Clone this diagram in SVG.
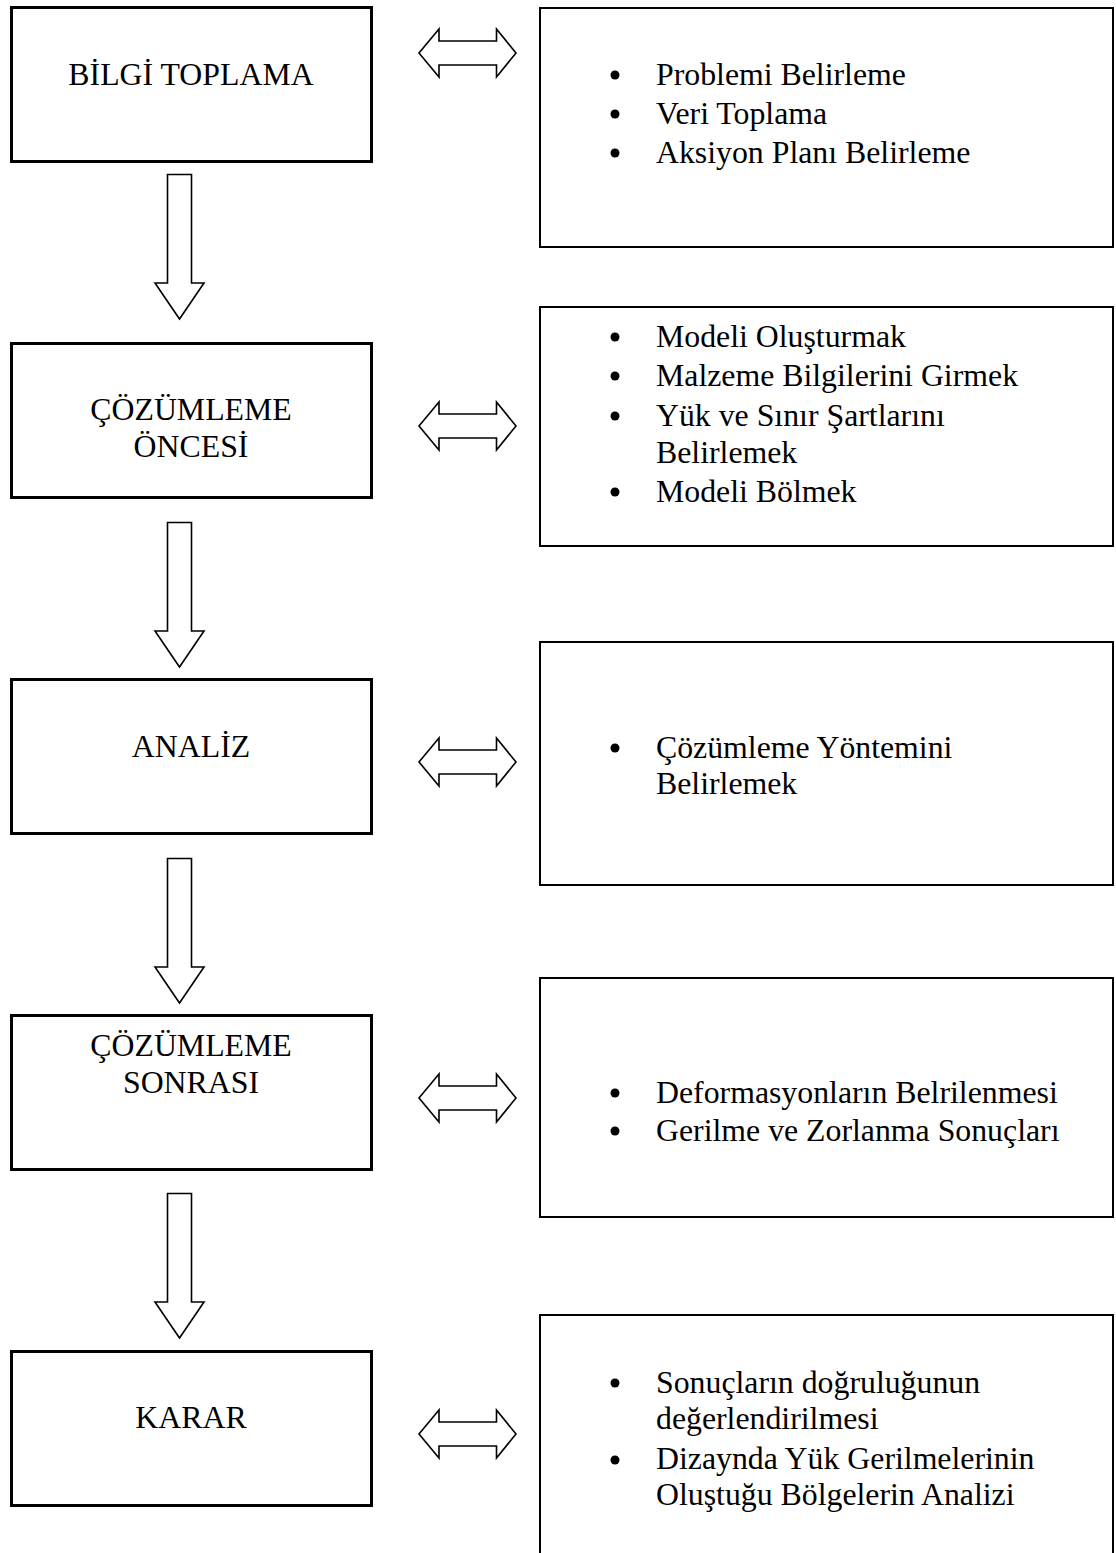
<svg xmlns="http://www.w3.org/2000/svg" width="1116" height="1553" viewBox="0 0 1116 1553">
<style>
.step{fill:#fff;stroke:#000;stroke-width:3}
.info{fill:#fff;stroke:#000;stroke-width:2}
.arr{fill:#fff;stroke:#000;stroke-width:1.6;stroke-linejoin:miter}
text{font-family:"Liberation Serif","Times New Roman",serif;font-size:31.8px;fill:#000}
.c{text-anchor:middle}
.dot{fill:#000}
</style>
<defs>
<polygon id="down" class="arr" points="167.5,174.5 191.5,174.5 191.5,283 204,283 179.5,319 155,283 167.5,283"/>
<polygon id="both" class="arr" points="419,0 439,-24 439,-12 496.5,-12 496.5,-24 516,0 496.5,24 496.5,12 439,12 439,24"/>
</defs>
<rect width="1116" height="1553" fill="#fff"/>

<g id="step1">
<rect class="step" x="11.5" y="7.5" width="360" height="154"/>
<text class="c" x="191" y="85">BİLGİ TOPLAMA</text>
</g>
<g id="info1">
<rect class="info" x="540" y="8" width="573" height="239"/>
<circle class="dot" cx="615" cy="75" r="4.5"/>
<circle class="dot" cx="615" cy="114" r="4.5"/>
<circle class="dot" cx="615" cy="153" r="4.5"/>
<text x="656" y="85">Problemi Belirleme</text>
<text x="656" y="124">Veri Toplama</text>
<text x="656" y="163">Aksiyon Planı Belirleme</text>
</g>

<g id="step2">
<rect class="step" x="11.5" y="343.5" width="360" height="154"/>
<text class="c" x="191" y="420">ÇÖZÜMLEME</text>
<text class="c" x="191" y="457">ÖNCESİ</text>
</g>
<g id="info2">
<rect class="info" x="540" y="307" width="573" height="239"/>
<circle class="dot" cx="615" cy="337" r="4.5"/>
<circle class="dot" cx="615" cy="376" r="4.5"/>
<circle class="dot" cx="615" cy="416" r="4.5"/>
<circle class="dot" cx="615" cy="492" r="4.5"/>
<text x="656" y="347">Modeli Oluşturmak</text>
<text x="656" y="386">Malzeme Bilgilerini Girmek</text>
<text x="656" y="426">Yük ve Sınır Şartlarını</text>
<text x="656" y="463">Belirlemek</text>
<text x="656" y="502">Modeli Bölmek</text>
</g>

<g id="step3">
<rect class="step" x="11.5" y="679.5" width="360" height="154"/>
<text class="c" x="191" y="757">ANALİZ</text>
</g>
<g id="info3">
<rect class="info" x="540" y="642" width="573" height="243"/>
<circle class="dot" cx="615" cy="748" r="4.5"/>
<text x="656" y="758">Çözümleme Yöntemini</text>
<text x="656" y="794">Belirlemek</text>
</g>

<g id="step4">
<rect class="step" x="11.5" y="1015.5" width="360" height="154"/>
<text class="c" x="191" y="1056">ÇÖZÜMLEME</text>
<text class="c" x="191" y="1093">SONRASI</text>
</g>
<g id="info4">
<rect class="info" x="540" y="978" width="573" height="239"/>
<circle class="dot" cx="615" cy="1093" r="4.5"/>
<circle class="dot" cx="615" cy="1131" r="4.5"/>
<text x="656" y="1103">Deformasyonların Belrilenmesi</text>
<text x="656" y="1141">Gerilme ve Zorlanma Sonuçları</text>
</g>

<g id="step5">
<rect class="step" x="11.5" y="1351.5" width="360" height="154"/>
<text class="c" x="191" y="1428">KARAR</text>
</g>
<g id="info5">
<path class="info" fill="none" d="M540,1560 V1315 H1113 V1560"/>
<circle class="dot" cx="615" cy="1383" r="4.5"/>
<circle class="dot" cx="615" cy="1460" r="4.5"/>
<text x="656" y="1393">Sonuçların doğruluğunun</text>
<text x="656" y="1429">değerlendirilmesi</text>
<text x="656" y="1469">Dizaynda Yük Gerilmelerinin</text>
<text x="656" y="1505">Oluştuğu Bölgelerin Analizi</text>
</g>

<g id="connectors">
<use href="#down"/>
<use href="#down" transform="translate(0,348)"/>
<use href="#down" transform="translate(0,684)"/>
<use href="#down" transform="translate(0,1019)"/>
<use href="#both" transform="translate(0,53)"/>
<use href="#both" transform="translate(0,426)"/>
<use href="#both" transform="translate(0,762)"/>
<use href="#both" transform="translate(0,1098)"/>
<use href="#both" transform="translate(0,1434)"/>
</g>
</svg>
